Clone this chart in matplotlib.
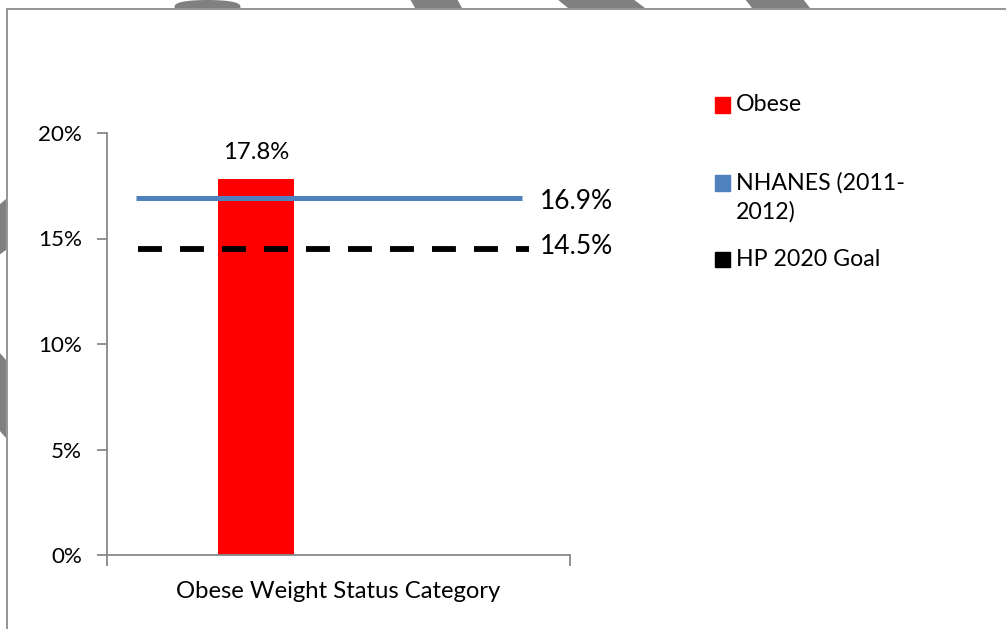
import numpy as np
import matplotlib.pyplot as plt
from matplotlib.patches import Polygon, Rectangle

plt.rcParams['font.family'] = ['Lato', 'DejaVu Sans']

# values
category = 'Obese Weight Status Category'
obese = 17.8
nhanes = 16.9
hp2020 = 14.5
series_names = ['Obese', 'NHANES (2011-\n2012)', 'HP 2020 Goal']
series_colors = ['#ff0000', '#4f81bd', '#000000']
yticks = [0, 5, 10, 15, 20]

W, H = 1006, 629
fig = plt.figure(figsize=(W / 100, H / 100), dpi=100)
fig.patch.set_facecolor('white')


def px(x, y):
    # pixel (from top-left) -> figure fraction
    return x / W, 1 - y / H


# plot area
left, right, top, bottom = 107, 570, 133, 555
ax = fig.add_axes([left / W, 1 - bottom / H, (right - left) / W, (bottom - top) / H])
ax.set_xlim(0, 1)
ax.set_ylim(0, 20)

ax.bar([0.322], [obese], width=0.164, color=series_colors[0], zorder=2)
ax.plot([0.063, 0.896], [nhanes, nhanes], color=series_colors[1], lw=3.6,
        solid_capstyle='butt', zorder=3)
ax.plot([0.067, 0.912], [hp2020, hp2020], color=series_colors[2], lw=4.2,
        linestyle=(0, (4.1, 3.1)), dash_capstyle='butt', zorder=3)

ax.text(0.322, obese + 0.8, f'{obese}%', ha='center', va='bottom', fontsize=17.2)
ax.text(0.935, nhanes - 0.17, f'{nhanes}%', ha='left', va='center', fontsize=19)
ax.text(0.935, hp2020 + 0.1, f'{hp2020}%', ha='left', va='center', fontsize=19)

for side in ['top', 'right']:
    ax.spines[side].set_visible(False)
for side in ['left', 'bottom']:
    ax.spines[side].set_color('#888888')
    ax.spines[side].set_linewidth(1.3)

ax.set_yticks(yticks)
ax.set_yticklabels([f'{v}%' for v in yticks], fontsize=16.1)
ax.tick_params(axis='y', length=7, width=1.3, color='#888888', pad=11)
ax.set_xticks([0, 1], minor=True)
ax.tick_params(axis='x', which='minor', length=8, width=1.3, color='#888888',
               direction='out')
ax.set_xticks([0.5])
ax.set_xticklabels([category], fontsize=17.2)
ax.tick_params(axis='x', which='major', length=0, pad=19)

# legend
leg_y = [105, 183, 260]
for name, color, y in zip(series_names, series_colors, leg_y):
    x0, y0 = px(715, y + 7.5)
    fig.patches.append(Rectangle((x0, y0), 15 / W, 15 / H, color=color,
                                 transform=fig.transFigure))
    tx, ty = px(736, y - 11)
    fig.text(tx, ty, name, ha='left', va='top', fontsize=16.7, linespacing=1.42)

# outer frame
fig.patches.append(Rectangle(px(7, H + 5), (W + 10) / W, (H - 4) / H,
                             fill=False, edgecolor='#8c8c8c', lw=1.3,
                             transform=fig.transFigure))

# gray shapes at the top and left edges
shade = '#808080'
t = np.linspace(0, np.pi, 40)
dome = list(zip(207.5 + 33 * np.cos(t), 8 - 8 * np.sin(t) ** 0.6))
shapes = [
    dome,
    [(410, -1), (457, -1), (462, 8), (415, 8)],
    [(557, -1), (633, -1), (645, 8), (568, 8)],
    [(745, -1), (803, -1), (810, 8), (752, 8)],
    [(-1, 205), (6, 199), (6, 250), (-1, 255)],
    [(-1, 352), (6, 360), (6, 438), (-1, 430)],
]
for pts in shapes:
    fig.patches.append(Polygon([px(x, y) for x, y in pts], closed=True,
                               color=shade, lw=0, transform=fig.transFigure))

fig.savefig('out.png', dpi=100, facecolor='white')
